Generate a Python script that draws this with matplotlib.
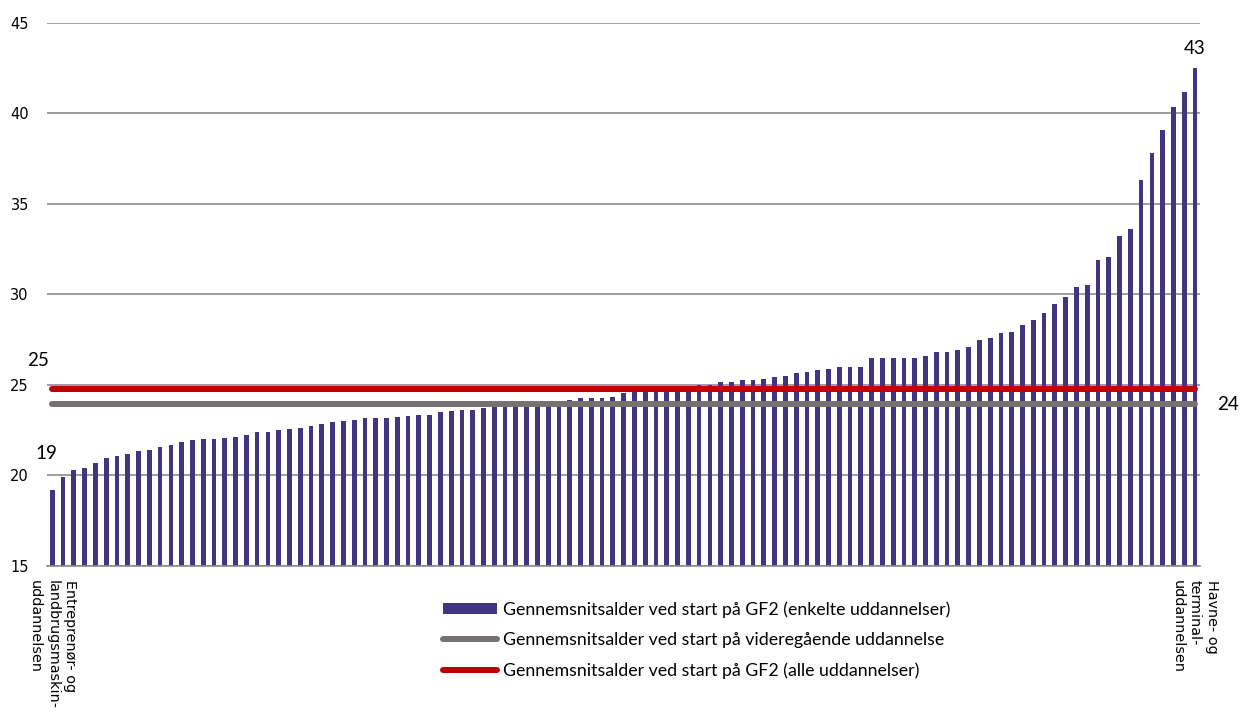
import matplotlib
matplotlib.use("Agg")
import matplotlib.pyplot as plt
import numpy as np

# average age at GF2 start, one bar per education (sorted)
ages = [19.19, 19.89, 20.29, 20.42, 20.68, 20.98, 21.09, 21.2, 21.36, 21.4,
        21.58, 21.71, 21.84, 21.95, 21.99, 22.0, 22.06, 22.1, 22.21, 22.41,
        22.43, 22.49, 22.58, 22.65, 22.71, 22.82, 22.95,
        23.02, 23.09, 23.17, 23.17, 23.19, 23.22, 23.28, 23.33, 23.33, 23.5,
        23.57, 23.63, 23.63,
        23.75, 23.8, 23.85, 23.9, 23.9, 23.95, 24.0,
        24.1, 24.16, 24.27, 24.29, 24.29, 24.35, 24.56, 24.59,
        24.7, 24.75, 24.8, 24.85, 24.9,
        24.99, 24.99, 25.16, 25.16, 25.25, 25.3, 25.34, 25.43, 25.47, 25.67,
        25.71, 25.82, 25.9, 25.98, 26.0, 26.0, 26.48, 26.48, 26.5, 26.5, 26.5,
        26.6, 26.81, 26.83, 26.92, 27.11, 27.49, 27.57, 27.85, 27.95, 28.29,
        28.57, 28.97, 29.45, 29.87, 30.4, 30.53, 31.88, 32.05, 33.25, 33.61,
        36.31, 37.83, 39.07, 40.34, 41.2, 42.53]

avg_vid = 23.93   # videregaaende uddannelse
avg_gf2 = 24.8    # GF2 alle uddannelser

first_label = "Entreprenør- og\nlandbrugsmaskin-\nuddannelsen"
last_label = "Havne- og\nterminal-\nuddannelsen"

leg_bar = "Gennemsnitsalder ved start på GF2 (enkelte uddannelser)"
leg_vid = "Gennemsnitsalder ved start på videregående uddannelse"
leg_gf2 = "Gennemsnitsalder ved start på GF2 (alle uddannelser)"

yticks = [15, 20, 25, 30, 35, 40, 45]

bar_col = "#413480"
grey_col = "#767171"
red_col = "#C00000"
grid_col = "#8C8C8C"

plt.rcParams['font.family'] = ['Lato', 'DejaVu Sans']

fig = plt.figure(figsize=(12.4, 7.17), dpi=100)
ax = fig.add_axes([46.9 / 1240, 1 - 566 / 717, (1200.4 - 46.9) / 1240, (566 - 23) / 717])

x = np.arange(len(ages))
bars = ax.bar(x, ages, width=0.44, color=bar_col, zorder=2, label=leg_bar)
l_vid, = ax.plot([x[0], x[-1]], [avg_vid, avg_vid], color=grey_col, lw=4.3,
                 solid_capstyle='round', zorder=3, label=leg_vid)
l_gf2, = ax.plot([x[0], x[-1]], [avg_gf2, avg_gf2], color=red_col, lw=4.3,
                 solid_capstyle='round', zorder=4, label=leg_gf2)

ax.set_xlim(-0.5, len(ages) - 0.5)
ax.set_ylim(15, 45)
ax.set_yticks(yticks)
ax.grid(axis='y', color=grid_col, lw=1.2, zorder=0)
ax.set_axisbelow(True)
for s in ['top', 'right', 'left']:
    ax.spines[s].set_visible(False)
ax.spines['bottom'].set_color(grid_col)
ax.spines['bottom'].set_linewidth(1.2)
ax.tick_params(axis='y', length=0, pad=13, labelsize=10.5)
for t in ax.get_yticklabels():
    t.set_fontfamily('DejaVu Sans')

ax.set_xticks([x[0], x[-1]])
ax.set_xticklabels([first_label, last_label], rotation=-90, ha='center',
                   va='top', multialignment='left', fontsize=10.4,
                   family='DejaVu Sans', linespacing=1.3)
ax.tick_params(axis='x', length=0, pad=10)

# value labels
ax.annotate(f"{ages[0]:.0f}", (x[0], ages[0]), xytext=(-4, 20),
            textcoords='offset points', ha='center', va='bottom', fontsize=13.5)
ax.annotate(f"{ages[-1]:.0f}", (x[-1], ages[-1]), xytext=(0, 8),
            textcoords='offset points', ha='center', va='bottom', fontsize=13.5)
ax.annotate(f"{avg_gf2:.0f}", (x[0], avg_gf2), xytext=(-10, 20),
            textcoords='offset points', ha='center', va='center', fontsize=13.5)
ax.annotate(f"{avg_vid:.0f}", (x[-1], avg_vid), xytext=(24, 0),
            textcoords='offset points', ha='center', va='center', fontsize=13.5)

fig.legend(handles=[bars, l_vid, l_gf2], loc='upper left',
           bbox_to_anchor=(443 / 1240, 1 - 601 / 717),
           frameon=False, fontsize=12.8, handlelength=3.05, handleheight=0.6,
           handletextpad=0.3, labelspacing=0.82, borderpad=0, borderaxespad=0)

fig.savefig("out.png", dpi=100)
